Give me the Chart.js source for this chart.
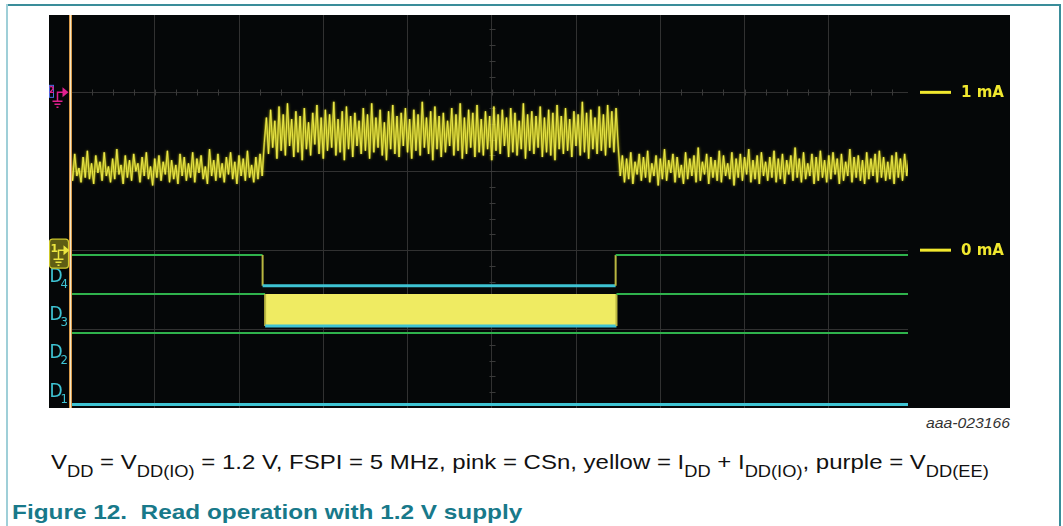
<!DOCTYPE html>
<html>
<head>
<meta charset="utf-8">
<title>Read operation with 1.2 V supply</title>
<script src="https://cdn.jsdelivr.net/npm/chart.js@4.4.1/dist/chart.umd.min.js"></script>
<style>
  body { margin: 0; background: #fff; }
  #page { position: relative; width: 1063px; height: 526px; overflow: hidden;
          font-family: "Liberation Sans", Arial, sans-serif; }
  .rule { position: absolute; }
  #scope { position: absolute; left: 49px; top: 15px; width: 961px; height: 393px; background: #050708; }
  #code { position: absolute; right: 53px; top: 414px; font-size: 15px; line-height: 17px;
          font-style: italic; color: #333; transform: scaleX(1.05); transform-origin: right; }
  #caption { position: absolute; left: 51px; top: 450px; font-size: 21px; line-height: 24px;
             white-space: nowrap; color: #111; transform: scaleX(1.142); transform-origin: left; }
  #caption sub { font-size: 16px; vertical-align: -8px; line-height: 0; }
  #title { position: absolute; left: 12px; top: 500px; font-size: 21px; line-height: 24px;
           font-weight: bold; color: #18798a; white-space: nowrap;
           transform: scaleX(1.16); transform-origin: left; }
</style>
</head>
<body>
<div id="page">
  <div class="rule" style="left:7px;top:4px;width:1054px;height:2px;background:#3a8d9a"></div>
  <div class="rule" style="left:6px;top:4px;width:2px;height:522px;background:#9fcfd8"></div>
  <div class="rule" style="left:1059px;top:4px;width:2px;height:522px;background:#3a8d9a"></div>
  <canvas id="scope" width="961" height="393"></canvas>
  <div id="code">aaa-023166</div>
  <div id="caption">V<sub>DD</sub> = V<sub>DD(IO)</sub> = 1.2 V, FSPI = 5 MHz, pink = CSn, yellow = I<sub>DD</sub> + I<sub>DD(IO)</sub>, purple = V<sub>DD(EE)</sub></div>
  <div id="title">Figure 12.&nbsp; Read operation with 1.2 V supply</div>
</div>
<script>
// time base: horizontal divisions, one sample every 0.025 div
const sampleStep = 0.025;
const timeEnd = 9.94;

// yellow trace, IDD + IDD(IO) in mA (noise swings)
const iddSamples = [
  // idle, before CSn goes low
  0.57, 0.44, 0.61, 0.47, 0.52, 0.43, 0.59, 0.46, 0.63, 0.45,
  0.55, 0.42, 0.60, 0.49, 0.56, 0.44, 0.62, 0.47, 0.53, 0.43,
  0.58, 0.45, 0.64, 0.48, 0.54, 0.42, 0.60, 0.46, 0.57, 0.44,
  0.61, 0.50, 0.55, 0.43, 0.59, 0.47, 0.62, 0.45, 0.53, 0.41,
  0.58, 0.46, 0.60, 0.44, 0.56, 0.48, 0.63, 0.43, 0.57, 0.45,
  0.54, 0.42, 0.61, 0.47, 0.59, 0.44, 0.55, 0.46, 0.62, 0.43,
  0.58, 0.49, 0.60, 0.45, 0.53, 0.42, 0.64, 0.47, 0.57, 0.44,
  0.61, 0.46, 0.55, 0.43, 0.59, 0.48, 0.62, 0.45, 0.56, 0.42,
  0.60, 0.47, 0.58, 0.44, 0.63, 0.46, 0.54, 0.43, 0.59, 0.45,
  0.61, 0.47,
  0.68,
  // read burst
  0.84, 0.61, 0.89, 0.65, 0.82, 0.58, 0.91, 0.63, 0.86, 0.60,
  0.93, 0.66, 0.83, 0.59, 0.88, 0.62, 0.85, 0.57, 0.90, 0.64,
  0.81, 0.60, 0.87, 0.67, 0.92, 0.61, 0.84, 0.58, 0.89, 0.63,
  0.86, 0.65, 0.94, 0.60, 0.83, 0.62, 0.88, 0.57, 0.91, 0.64,
  0.85, 0.59, 0.87, 0.66, 0.82, 0.61, 0.90, 0.63, 0.86, 0.58,
  0.93, 0.62, 0.84, 0.65, 0.89, 0.60, 0.81, 0.57, 0.88, 0.64,
  0.92, 0.61, 0.85, 0.59, 0.87, 0.66, 0.90, 0.62, 0.83, 0.58,
  0.89, 0.63, 0.86, 0.60, 0.94, 0.65, 0.84, 0.61, 0.88, 0.57,
  0.91, 0.64, 0.85, 0.59, 0.87, 0.62, 0.82, 0.66, 0.90, 0.60,
  0.86, 0.63, 0.93, 0.58, 0.84, 0.61, 0.89, 0.65, 0.87, 0.59,
  0.92, 0.62, 0.83, 0.60, 0.88, 0.64, 0.85, 0.57, 0.91, 0.63,
  0.86, 0.61, 0.89, 0.66, 0.84, 0.59, 0.90, 0.62, 0.87, 0.60,
  0.82, 0.64, 0.93, 0.58, 0.86, 0.63, 0.88, 0.61, 0.85, 0.65,
  0.91, 0.59, 0.84, 0.62, 0.89, 0.60, 0.87, 0.57, 0.92, 0.64,
  0.85, 0.61, 0.90, 0.63, 0.83, 0.59, 0.88, 0.66, 0.86, 0.60,
  0.94, 0.62, 0.87, 0.58, 0.89, 0.64, 0.84, 0.61, 0.91, 0.63,
  0.86, 0.60, 0.92, 0.65, 0.88, 0.62, 0.90,
  0.66,
  // idle again after CSn returns high
  0.47, 0.60, 0.43, 0.58, 0.45, 0.62, 0.42, 0.56, 0.48, 0.61,
  0.44, 0.59, 0.46, 0.63, 0.43, 0.55, 0.47, 0.60, 0.41, 0.58,
  0.45, 0.64, 0.44, 0.57, 0.49, 0.61, 0.43, 0.59, 0.46, 0.54,
  0.42, 0.62, 0.45, 0.58, 0.47, 0.60, 0.43, 0.65, 0.44, 0.56,
  0.48, 0.61, 0.42, 0.59, 0.46, 0.57, 0.44, 0.63, 0.43, 0.60,
  0.47, 0.55, 0.45, 0.62, 0.41, 0.58, 0.46, 0.61, 0.44, 0.59,
  0.48, 0.64, 0.43, 0.57, 0.45, 0.60, 0.42, 0.62, 0.47, 0.56,
  0.44, 0.59, 0.46, 0.63, 0.43, 0.58, 0.45, 0.61, 0.42, 0.57,
  0.48, 0.60, 0.44, 0.65, 0.46, 0.58, 0.43, 0.62, 0.45, 0.55,
  0.47, 0.61, 0.42, 0.59, 0.44, 0.63, 0.46, 0.57, 0.43, 0.60,
  0.45, 0.62, 0.48, 0.58, 0.42, 0.61, 0.44, 0.56, 0.47, 0.64,
  0.43, 0.59, 0.46, 0.60, 0.44, 0.57, 0.42, 0.62, 0.45, 0.58,
  0.47, 0.61, 0.43, 0.63, 0.46, 0.59, 0.44, 0.56, 0.45, 0.60,
  0.42, 0.62, 0.46, 0.58, 0.44, 0.61, 0.47, 0.57
];

// logic channels: edge times (div) and the state between them
const csnEdges = [2.28, 6.47];
const d4States = [1, 0, 1];
const busEdges = [2.31, 6.48];
const d3States = [1, 0, 1];     // 0 = burst (drawn filled)
const d2States = [1];
const d1States = [0];

// right-hand level markers (mA)
const levelMarks = [1, 0];

// lane placement on the logic axis (divisions from the bottom)
const lanes = {
  d4: { hi: 1.94, lo: 1.55, label: 1.60, name: '4' },
  d3: { hi: 1.445, lo: 1.04, label: 1.115, name: '3' },
  d2: { hi: 0.95, lo: 0.55, label: 0.634, name: '2' },
  d1: { hi: 0.44, lo: 0.045, label: 0.139, name: '1' }
};

const gridColor = '#313131';
const hiColor = '#2fb24c';
const loColor = '#3ec3d3';
const edgeColor = '#b9b640';
const markColor = '#f1e82e';

function stepTrace(edges, states, lane) {
  const pts = [];
  let t0 = 0;
  states.forEach((s, i) => {
    const t1 = i < edges.length ? edges[i] : timeEnd;
    const lvl = s ? lane.hi : lane.lo;
    pts.push({ x: t0, y: lvl }, { x: t1, y: lvl });
    t0 = t1;
  });
  return pts;
}

function digitalSet(points, lane, extra) {
  return Object.assign({
    data: points,
    yAxisID: 'yDig',
    pointRadius: 0,
    borderWidth: 2,
    borderColor: hiColor,
    fill: false,
    order: 3,
    segment: {
      borderColor: c => c.p0.parsed.y !== c.p1.parsed.y ? edgeColor
        : (c.p0.parsed.y === lane.hi ? hiColor : loColor),
      borderWidth: c => (c.p0.parsed.y === lane.lo && c.p1.parsed.y === lane.lo) ? 3 : 2
    }
  }, extra || {});
}

function drawGround(ctx, sx, py, color) {
  ctx.save();
  ctx.strokeStyle = color;
  ctx.fillStyle = color;
  ctx.lineWidth = 1.5;
  ctx.beginPath();
  ctx.moveTo(sx, py + 9); ctx.lineTo(sx, py); ctx.lineTo(sx + 6, py);
  ctx.moveTo(sx - 5, py + 9); ctx.lineTo(sx + 5, py + 9);
  ctx.moveTo(sx - 3, py + 12); ctx.lineTo(sx + 3, py + 12);
  ctx.moveTo(sx - 1, py + 15); ctx.lineTo(sx + 1, py + 15);
  ctx.stroke();
  ctx.beginPath();
  ctx.moveTo(sx + 5, py - 5); ctx.lineTo(sx + 11, py); ctx.lineTo(sx + 5, py + 5);
  ctx.closePath();
  ctx.fill();
  ctx.restore();
}

const scopeDecor = {
  id: 'scopeDecor',
  beforeDatasetsDraw(chart) {
    const { ctx, scales: { x, y } } = chart;
    ctx.save();
    ctx.strokeStyle = '#3a3a3a';
    ctx.lineWidth = 1;
    ctx.beginPath();
    const yc = Math.round(y.getPixelForValue(1)) + 0.5;
    for (let t = 0.25; t < timeEnd; t += 0.25) {
      const px = Math.round(x.getPixelForValue(t)) + 0.5;
      ctx.moveTo(px, yc - 3); ctx.lineTo(px, yc + 3);
    }
    const xc = Math.round(x.getPixelForValue(5)) + 0.5;
    for (let v = -0.9; v < 1.49; v += 0.1) {
      const py = Math.round(y.getPixelForValue(v)) + 0.5;
      ctx.moveTo(xc - 3, py); ctx.lineTo(xc + 3, py);
    }
    ctx.stroke();
    ctx.restore();
  },
  beforeDatasetDraw(chart, args) {
    // soft glow on the analog trace, like the persistence display
    if (args.index < 2) {
      chart.ctx.save();
      chart.ctx.shadowColor = 'rgba(230,226,40,0.5)';
      chart.ctx.shadowBlur = 3;
    }
  },
  afterDatasetDraw(chart, args) {
    if (args.index < 2) chart.ctx.restore();
  },
  afterDatasetsDraw(chart) {
    const { ctx, chartArea: a, scales: { x, y, yDig } } = chart;
    ctx.save();

    // trigger / start cursor
    const x0 = x.getPixelForValue(0);
    ctx.fillStyle = '#d99a4a';
    ctx.fillRect(x0 - 1.5, a.top, 3, a.bottom - a.top);
    ctx.fillStyle = '#f6e6c4';
    ctx.fillRect(x0 - 0.5, a.top, 1, a.bottom - a.top);

    // logic channel labels
    ctx.fillStyle = loColor;
    ctx.textBaseline = 'alphabetic';
    Object.values(lanes).forEach(l => {
      const py = yDig.getPixelForValue(l.label);
      ctx.font = '19px "DejaVu Sans Condensed", "Liberation Sans Narrow", sans-serif';
      ctx.fillText('D', a.left - 21, py);
      ctx.font = '13px "DejaVu Sans Condensed", "Liberation Sans Narrow", sans-serif';
      ctx.fillText(l.name, a.left - 10, py + 6);
    });

    // channel 1 ground badge at 0 mA
    const y0 = y.getPixelForValue(0);
    ctx.beginPath();
    ctx.roundRect(a.left - 21, y0 - 11, 19, 29, 3);
    ctx.fillStyle = '#5f5d14';
    ctx.fill();
    ctx.strokeStyle = '#cfca2c';
    ctx.lineWidth = 1.2;
    ctx.stroke();
    ctx.fillStyle = '#ece640';
    ctx.font = 'bold 11px "DejaVu Sans", sans-serif';
    ctx.textBaseline = 'middle';
    ctx.fillText('1', a.left - 20, y0 - 1);
    drawGround(ctx, a.left - 12, y0, '#ece640');

    // channel 2 (pink) ground marker at 1 mA
    const y1 = y.getPixelForValue(1);
    ctx.strokeStyle = '#4a6ce0';
    ctx.lineWidth = 1;
    ctx.strokeRect(a.left - 21, y1 - 7, 4, 12);
    ctx.fillStyle = '#e0208e';
    ctx.font = 'bold 8px "DejaVu Sans", sans-serif';
    ctx.fillText('2', a.left - 21.5, y1 - 1);
    drawGround(ctx, a.left - 13, y1, '#e0208e');

    // level markers on the right
    ctx.fillStyle = markColor;
    ctx.strokeStyle = markColor;
    ctx.lineWidth = 3;
    ctx.font = 'bold 15px "DejaVu Sans", sans-serif';
    ctx.textBaseline = 'middle';
    levelMarks.forEach(v => {
      const py = y.getPixelForValue(v);
      ctx.beginPath();
      ctx.moveTo(a.right + 12, py); ctx.lineTo(a.right + 43, py);
      ctx.stroke();
      ctx.fillText(v + ' mA', a.right + 53, py + 1);
    });
    ctx.restore();
  }
};

const iddPoints = iddSamples.map((v, i) => ({ x: i * sampleStep, y: v }));

new Chart(document.getElementById('scope'), {
  type: 'line',
  data: {
    datasets: [
      {
        label: 'IDD + IDD(IO)',
        data: iddPoints,
        yAxisID: 'y',
        borderColor: 'rgba(248,244,84,0.85)',
        borderWidth: 1,
        borderJoinStyle: 'bevel',
        pointRadius: 0,
        order: 1
      },
      {
        label: 'IDD + IDD(IO) persistence',
        data: iddPoints,
        yAxisID: 'y',
        borderColor: 'rgba(200,196,22,0.55)',
        borderWidth: 2.2,
        borderJoinStyle: 'bevel',
        pointRadius: 0,
        order: 2
      },
      digitalSet(stepTrace(csnEdges, d4States, lanes.d4), lanes.d4),
      digitalSet(stepTrace(busEdges, d3States, lanes.d3), lanes.d3, {
        fill: { value: lanes.d3.hi },
        backgroundColor: '#efeb62'
      }),
      digitalSet(stepTrace([], d2States, lanes.d2), lanes.d2),
      digitalSet(stepTrace([], d1States, lanes.d1), lanes.d1)
    ]
  },
  options: {
    responsive: false,
    animation: false,
    events: [],
    layout: { padding: { left: 21.5, right: 102, top: 0, bottom: 0 } },
    plugins: { legend: { display: false }, tooltip: { enabled: false } },
    scales: {
      x: {
        type: 'linear', min: 0, max: timeEnd,
        ticks: { display: false, stepSize: 1 },
        grid: { color: gridColor, drawTicks: false },
        border: { display: false },
        afterBuildTicks: s => { s.ticks = s.ticks.filter(t => Number.isInteger(t.value)); }
      },
      y: {
        type: 'linear', min: -1, max: 1.49,
        ticks: { display: false, stepSize: 0.5 },
        grid: { color: gridColor, drawTicks: false },
        border: { display: false },
        afterBuildTicks: s => { s.ticks = s.ticks.filter(t => Math.abs(t.value * 2 - Math.round(t.value * 2)) < 1e-6); }
      },
      yDig: { type: 'linear', display: false, min: 0, max: 4.98 }
    }
  },
  plugins: [scopeDecor]
});
</script>
</body>
</html>
